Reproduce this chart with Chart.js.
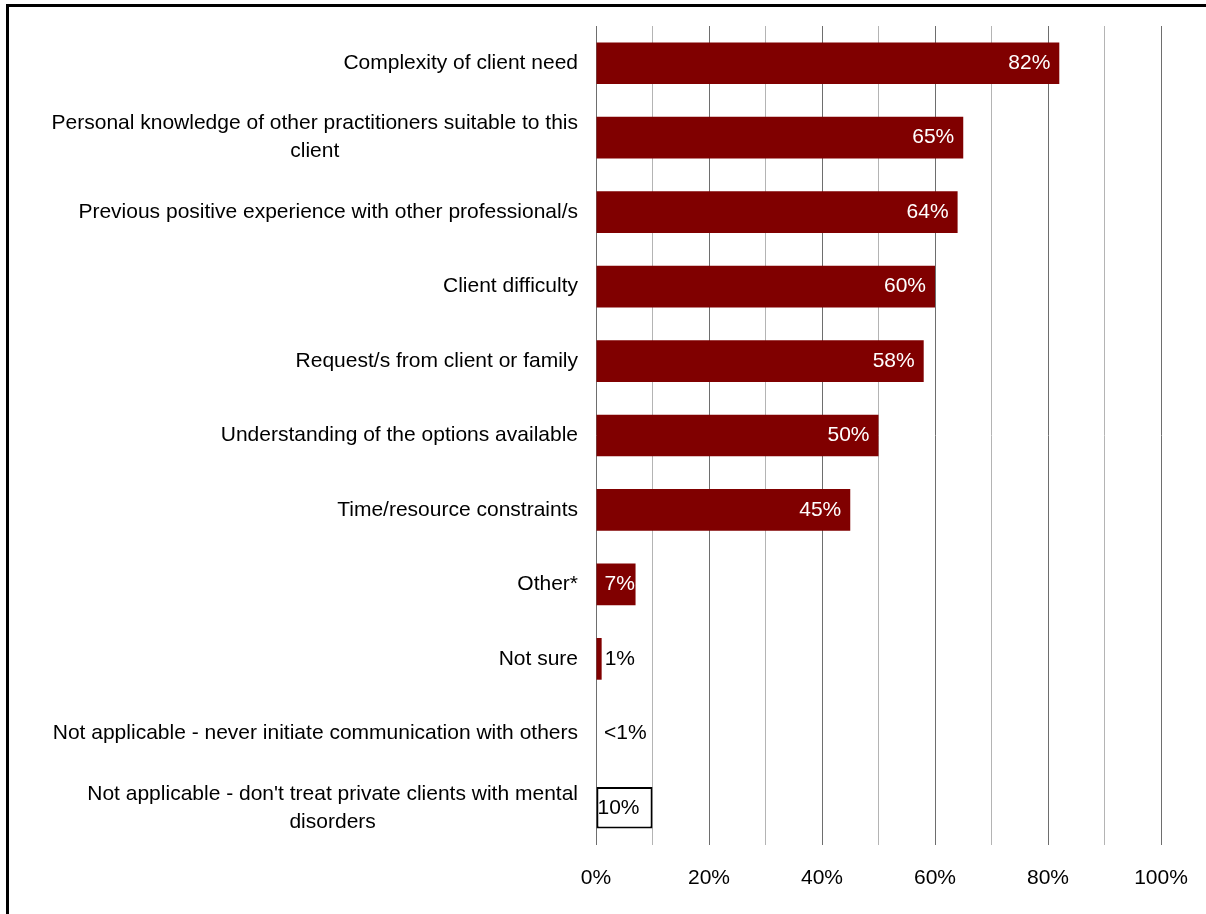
<!DOCTYPE html>
<html lang="en">

<head>
  <meta charset="UTF-8" />
  <meta name="viewport" content="width=device-width, initial-scale=1.0" />
  <title>Reasons for communicating with other practitioners</title>
  <script src="https://cdn.jsdelivr.net/npm/chart.js"></script>
  <style>
    html, body { margin: 0; padding: 0; background: #fff; overflow: hidden; }
    /* cadre du graphique : seuls les bords gauche et haut sont visibles */
    #cadre { position: absolute; left: 6px; top: 4px; width: 1400px; height: 1100px;
             border-left: 3px solid #000; border-top: 3px solid #000; }
    #graphe { position: absolute; left: 0; top: 0; }
  </style>
</head>

<body>
  <div id="cadre"></div>
  <canvas id="graphe" width="1206" height="914"></canvas>

<script>
  // categories (une ligne par element du tableau)
  const categories = [
    ['Complexity of client need'],
    ['Personal knowledge of other practitioners suitable to this', 'client'],
    ['Previous positive experience with other professional/s'],
    ['Client difficulty'],
    ['Request/s from client or family'],
    ['Understanding of the options available'],
    ['Time/resource constraints'],
    ['Other*'],
    ['Not sure'],
    ['Not applicable - never initiate communication with others'],
    ['Not applicable - don\'t treat private clients with mental', 'disorders']
  ];
  // pourcentages
  const valeurs = [82, 65, 64, 60, 58, 50, 45, 7, 1, 0, 10];
  const etiquettes = ['82%', '65%', '64%', '60%', '58%', '50%', '45%', '7%', '1%', '<1%', '10%'];
  const xTicks = ['0%', '20%', '40%', '60%', '80%', '100%'];

  const police = '"Liberation Sans", Arial, sans-serif';
  const dernier = valeurs.length - 1;

  // etiquettes de l'axe y : bloc aligne a droite, lignes centrees entre elles
  const etiquettesY = {
    id: 'etiquettesY',
    afterDraw(chart) {
      const ctx = chart.ctx;
      const y = chart.scales.y;
      const droite = chart.chartArea.left - 18;
      ctx.save();
      ctx.font = '21px ' + police;
      ctx.fillStyle = '#000';
      ctx.textAlign = 'center';
      ctx.textBaseline = 'middle';
      categories.forEach((lignes, i) => {
        const yc = y.getPixelForValue(i);
        const larg = Math.max(...lignes.map(l => ctx.measureText(l).width));
        const cx = droite - larg / 2;
        lignes.forEach((l, k) => {
          ctx.fillText(l, cx, yc + (k - (lignes.length - 1) / 2) * 28);
        });
      });
      ctx.restore();
    }
  };

  // valeurs ecrites au bout des barres
  const valeursBarres = {
    id: 'valeursBarres',
    afterDatasetsDraw(chart) {
      const ctx = chart.ctx;
      const meta = chart.getDatasetMeta(0);
      ctx.save();
      ctx.font = '21px ' + police;
      ctx.textBaseline = 'middle';
      meta.data.forEach((barre, i) => {
        const txt = etiquettes[i];
        const w = ctx.measureText(txt).width;
        if (i === dernier) {
          ctx.fillStyle = '#000';
          ctx.textAlign = 'left';
          ctx.fillText(txt, barre.base + 1, barre.y);
        } else if (valeurs[i] >= 5) {
          ctx.fillStyle = '#fff';
          ctx.textAlign = 'right';
          ctx.fillText(txt, Math.max(barre.x - 9, barre.base + 8 + w), barre.y);
        } else {
          ctx.fillStyle = '#000';
          ctx.textAlign = 'left';
          ctx.fillText(txt, Math.max(barre.x + 3, barre.base + 8), barre.y);
        }
      });
      ctx.restore();
    }
  };

  const ctx = document.getElementById('graphe').getContext('2d');
  const myChart = new Chart(ctx, {
    type: 'bar',
    data: {
      labels: categories,
      datasets: [{
        data: valeurs,
        backgroundColor: valeurs.map((v, i) => i === dernier ? '#ffffff' : '#800000'),
        borderColor: '#000',
        borderWidth: valeurs.map((v, i) => i === dernier ? 2 : 0),
        borderSkipped: false,
        barPercentage: 0.56,
        categoryPercentage: 1
      }]
    },
    options: {
      indexAxis: 'y',
      responsive: false,
      animation: false,
      devicePixelRatio: 1,
      layout: { padding: { top: 26, right: 45, bottom: 0, left: 0 } },
      plugins: {
        legend: { display: false },
        tooltip: { enabled: false }
      },
      scales: {
        x: {
          min: 0,
          max: 100,
          border: { display: false },
          grid: {
            drawTicks: false,
            color: c => c.tick.value % 20 === 0 ? '#6e6e6e' : '#b4b4b4'
          },
          ticks: {
            stepSize: 10,
            autoSkip: false,
            maxRotation: 0,
            padding: 21,
            color: '#000',
            font: { family: police, size: 21 },
            callback: v => v % 20 === 0 ? xTicks[v / 20] : ''
          },
          afterFit: s => { s.height = 69; s.paddingLeft = 0; s.paddingRight = 0; }
        },
        y: {
          border: { display: false },
          grid: { display: false },
          ticks: { display: false },
          afterFit: s => { s.width = 596; }
        }
      }
    },
    plugins: [etiquettesY, valeursBarres]
  });
</script>
</body>

</html>
